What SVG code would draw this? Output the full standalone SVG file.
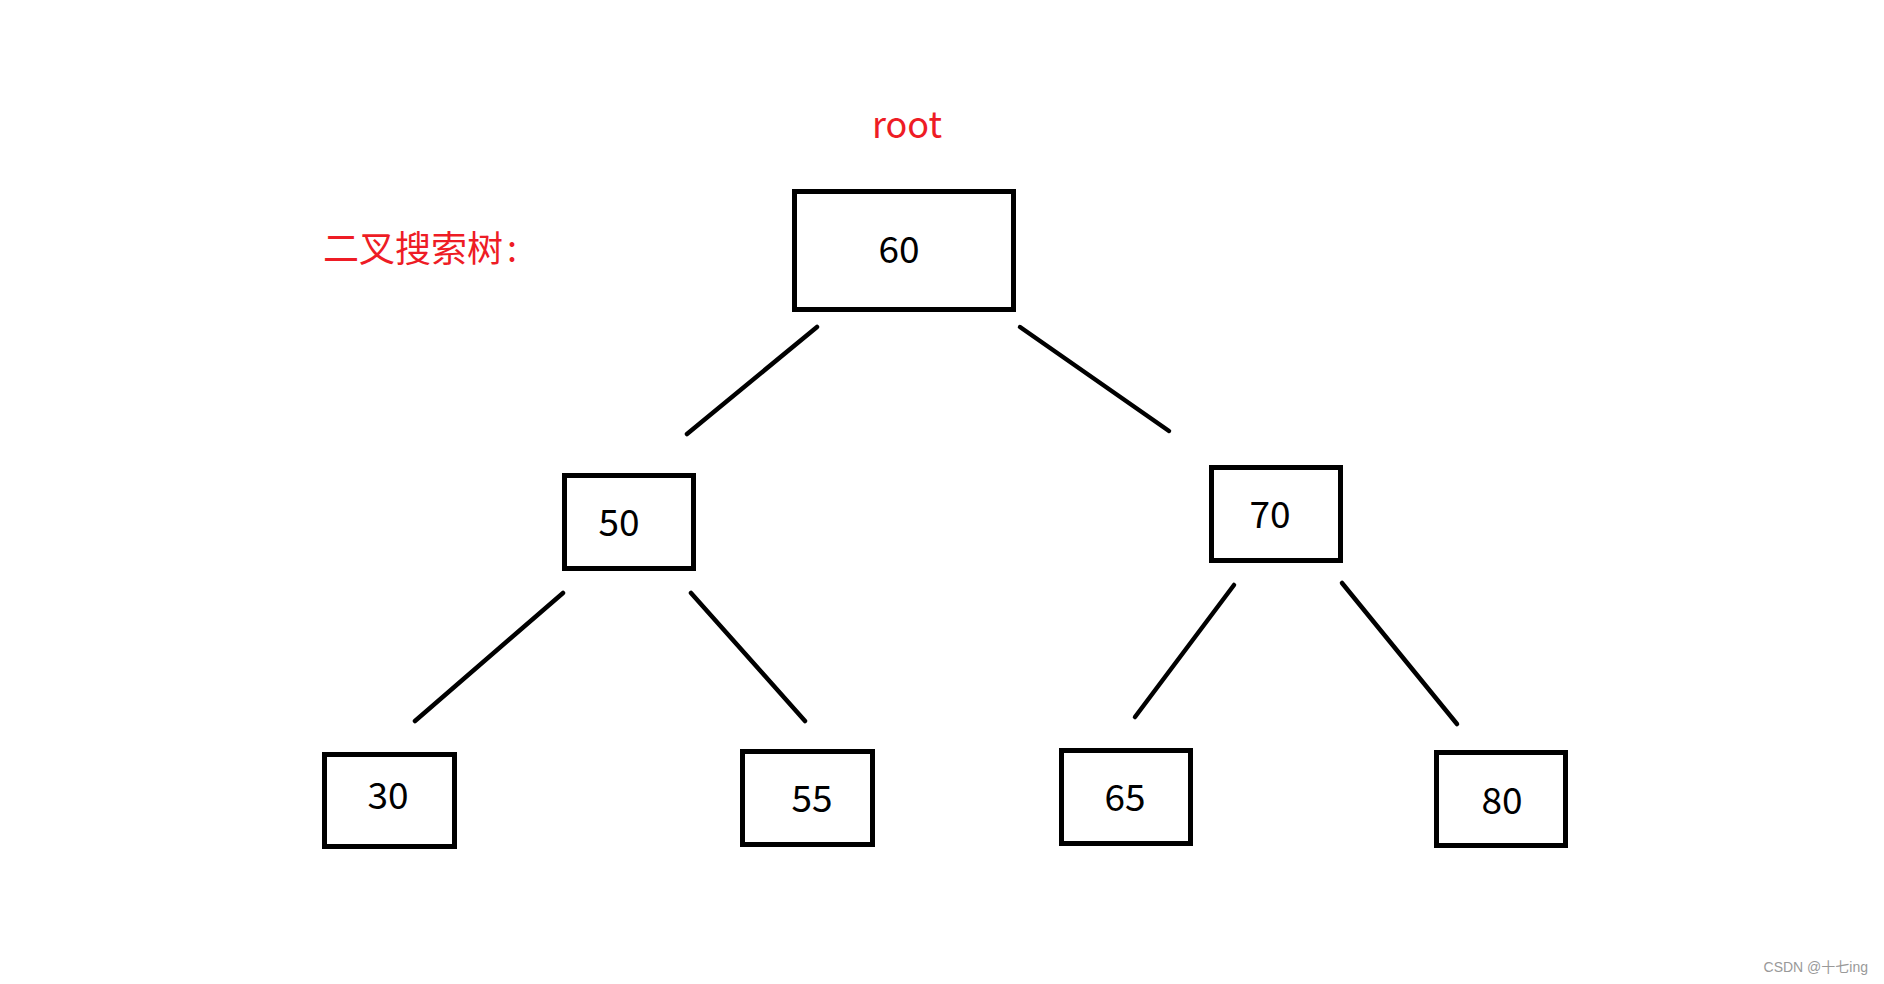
<svg xmlns="http://www.w3.org/2000/svg" width="1884" height="984" viewBox="0 0 1884 984">
<style>
.box{fill:#fff;stroke:#000;stroke-width:5}
.num{font-family:"Noto Sans CJK SC","Noto Sans",sans-serif;font-size:37px;fill:#000;text-anchor:middle}
.red{font-family:"Noto Sans CJK SC","Noto Sans",sans-serif;fill:#ee1c25}
.edge{stroke:#000;stroke-width:4.5;stroke-linecap:round;fill:none}
</style>
<rect width="1884" height="984" fill="#fff"/>
<text class="red" x="907" y="138" font-size="36" text-anchor="middle">root</text>
<text class="red" x="323" y="262" font-size="36">二叉搜索树<tspan dx="4">:</tspan></text>
<g id="connectors">
<line class="edge" x1="817" y1="327" x2="687" y2="434"/>
<line class="edge" x1="1020" y1="327" x2="1169" y2="431"/>
<line class="edge" x1="563" y1="593" x2="415" y2="721"/>
<line class="edge" x1="691" y1="593" x2="805" y2="721"/>
<line class="edge" x1="1234" y1="585" x2="1135" y2="717"/>
<line class="edge" x1="1342" y1="583" x2="1457" y2="724"/>
</g>
<g id="n60"><rect class="box" x="794.5" y="191.5" width="219" height="118"/><text class="num" x="899" y="263">60</text></g>
<g id="n50"><rect class="box" x="564.5" y="475.5" width="129" height="93"/><text class="num" x="619" y="536">50</text></g>
<g id="n70"><rect class="box" x="1211.5" y="467.5" width="129" height="93"/><text class="num" x="1270" y="528">70</text></g>
<g id="n30"><rect class="box" x="324.5" y="754.5" width="130" height="92"/><text class="num" x="388" y="809">30</text></g>
<g id="n55"><rect class="box" x="742.5" y="751.5" width="130" height="93"/><text class="num" x="812" y="812">55</text></g>
<g id="n65"><rect class="box" x="1061.5" y="750.5" width="129" height="93"/><text class="num" x="1125" y="811">65</text></g>
<g id="n80"><rect class="box" x="1436.5" y="752.5" width="129" height="93"/><text class="num" x="1502" y="814">80</text></g>
<text x="1868" y="972" font-family="'Liberation Sans','Noto Sans CJK SC',sans-serif" font-size="14" fill="#999" text-anchor="end">CSDN @十七ing</text>
</svg>
